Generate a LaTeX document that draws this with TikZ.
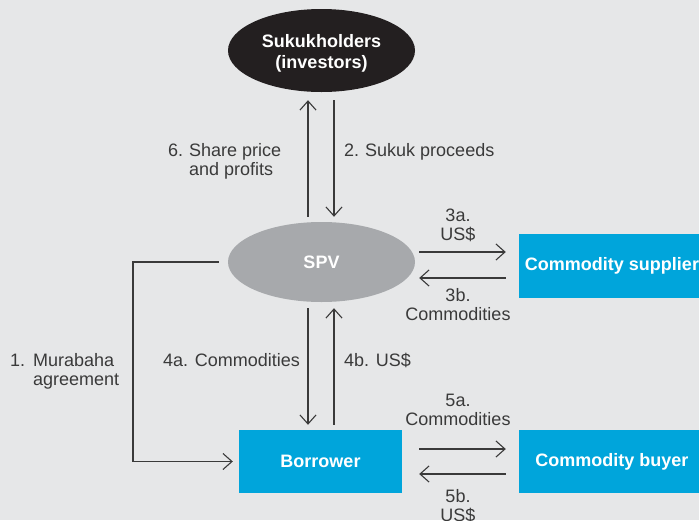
\documentclass[tikz,border=0pt]{standalone}
\usepackage{fontspec}
\setmainfont{Liberation Sans}
\usetikzlibrary{arrows.meta,shapes.geometric,calc}
\definecolor{bg}{HTML}{E6E7E8}
\definecolor{blk}{HTML}{231F20}
\definecolor{gry}{HTML}{A7A9AC}
\definecolor{blu}{HTML}{00A5DB}
\definecolor{ink}{HTML}{3A3A3A}
\tikzset{
  arr/.style={draw=ink, line width=1.1pt, -{Straight Barb[length=9pt,width=16pt]}},
  lbl/.style={text=ink, inner sep=0pt, font=\fontsize{18}{19.5}\selectfont},
  boldtxt/.style={text=white, inner sep=0pt, font=\bfseries\fontsize{18}{21}\selectfont},
  oval/.style={ellipse, inner sep=0pt, minimum width=187pt},
  bluebox/.style={rectangle, fill=blu, inner sep=0pt, minimum height=63pt, boldtxt}
}
\begin{document}
\begin{tikzpicture}[x=1pt,y=-1pt]
\clip (0,0) rectangle (699,520);
\fill[bg] (0,0) rectangle (699,520);

% nodes
\node[oval, fill=blk, minimum height=83pt] (sk) at (321.5,50.5) {};
\node[boldtxt, align=center] (skt) at (321.5,53.5) {Sukukholders\\(investors)};
\node[oval, fill=gry, minimum height=80pt, boldtxt] (spv) at (321.5,262) {SPV};
\node[bluebox, minimum width=186pt, minimum height=64pt] (sup) at (612,266) {Commodity supplier};
\node[bluebox, minimum width=163pt] (bor) at (320.5,461.5) {Borrower};
\node[bluebox, minimum width=186pt] (buy) at (612,461.5) {Commodity buyer};

% SPV <-> Sukukholders
\draw[arr] ($(spv.north)+(-13.5,-5)$) -- ($(sk.south)+(-13.5,8)$);
\draw[arr] ($(sk.south)+(12.5,8)$) -- ($(spv.north)+(12.5,-5)$);
% SPV <-> supplier
\draw[arr] ($(spv.east)+(4,-10)$) -- ($(sup.west)+(-13,-14)$);
\draw[arr] ($(sup.west)+(-13,12)$) -- ($(spv.east)+(4,16)$);
% SPV <-> Borrower
\draw[arr] ($(spv.south)+(-13.5,6)$) -- ($(bor.north)+(-12.5,-5)$);
\draw[arr] ($(bor.north)+(13.5,-5)$) -- ($(spv.south)+(12.5,6)$);
% Borrower <-> buyer
\draw[arr] ($(bor.east)+(17,-12.5)$) -- ($(buy.west)+(-13,-12.5)$);
\draw[arr] ($(buy.west)+(-13,12.5)$) -- ($(bor.east)+(17,12.5)$);
% Murabaha
\coordinate (m1) at (133,262);
\coordinate (m2) at (133,461.5);
\draw[arr, shorten <=9pt, shorten >=6pt] (spv.west) -- (m1) -- (m2) -- (bor.west);

% labels
\node[lbl, anchor=base west] (l6) at (168,156) {\begin{tabular}[t]{@{}l@{\hspace{6pt}}l@{}}6.&Share price\\&and profits\end{tabular}};
\node[lbl, anchor=base west] (l2) at (344,156) {2.\hspace{6pt}Sukuk proceeds};
\node[lbl, anchor=base] (l3a) at (458,221) {\begin{tabular}[t]{@{}c@{}}3a.\\US\$\end{tabular}};
\node[lbl, anchor=base] (l3b) at (458,301) {\begin{tabular}[t]{@{}c@{}}3b.\\Commodities\end{tabular}};
\node[lbl, anchor=base] (l5a) at (458,406) {\begin{tabular}[t]{@{}c@{}}5a.\\Commodities\end{tabular}};
\node[lbl, anchor=base] (l5b) at (458,502) {\begin{tabular}[t]{@{}c@{}}5b.\\US\$\end{tabular}};
\node[lbl, anchor=base west] (l1) at (10,366) {\begin{tabular}[t]{@{}l@{\hspace{8pt}}l@{}}1.&Murabaha\\&agreement\end{tabular}};
\node[lbl, anchor=base east] (l4a) at (300,366) {4a. Commodities};
\node[lbl, anchor=base west] (l4b) at (344,366) {4b. US\$};
\end{tikzpicture}
\end{document}
